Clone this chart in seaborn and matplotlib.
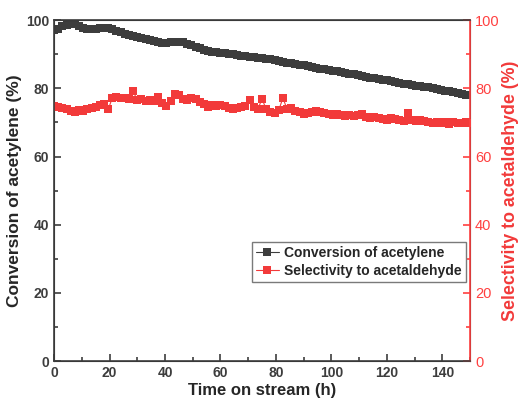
import numpy as np
import matplotlib
matplotlib.use("Agg")
import matplotlib.pyplot as plt
import seaborn as sns
from matplotlib.ticker import MultipleLocator

# data (sampling every 1.5 h)
time_h = np.arange(0, 150.1, 1.5)

conversion = [
    97.0, 97.5, 98.2, 98.7, 99.0, 98.9, 98.3, 97.8, 97.4, 97.3,
    97.4, 97.6, 97.7, 97.6, 97.3, 96.9, 96.4, 96.0, 95.6, 95.4,
    95.2, 94.9, 94.5, 94.1, 93.8, 93.5, 93.3, 93.4, 93.6, 93.7,
    93.7, 93.5, 93.1, 92.6, 92.1, 91.7, 91.3, 91.0, 90.8, 90.6,
    90.5, 90.3, 90.1, 90.0, 89.8, 89.6, 89.5, 89.3, 89.1, 88.9,
    88.8, 88.6, 88.5, 88.3, 88.0, 87.8, 87.5, 87.3, 87.1, 86.9,
    86.7, 86.5, 86.2, 86.0, 85.8, 85.6, 85.4, 85.2, 85.0, 84.8,
    84.5, 84.3, 84.1, 83.8, 83.5, 83.3, 83.1, 82.9, 82.7, 82.5,
    82.3, 82.1, 81.9, 81.6, 81.4, 81.2, 80.9, 80.7, 80.6, 80.5,
    80.3, 80.1, 79.9, 79.6, 79.3, 79.1, 78.9, 78.6, 78.4, 78.1,
    77.9,
]

selectivity = [
    74.8, 74.5, 74.3, 73.8, 73.3, 73.2, 73.5, 73.4, 73.9, 74.2,
    74.6, 75.1, 75.3, 73.8, 77.2, 77.6, 77.3, 77.1, 76.8, 79.2,
    76.5, 76.8, 76.2, 76.5, 76.3, 77.4, 75.6, 74.8, 76.3, 78.4,
    77.9, 77.0, 76.6, 77.2, 76.8, 76.1, 75.4, 74.6, 75.0, 74.8,
    75.2, 74.9, 74.3, 73.9, 74.2, 74.6, 74.8, 76.6, 74.4, 74.0,
    76.9, 73.8, 73.2, 72.8, 73.5, 77.2, 73.9, 74.2, 73.4, 73.0,
    72.6, 72.8, 73.1, 73.4, 73.2, 72.9, 72.4, 72.3, 72.6, 72.1,
    71.8, 72.3, 72.0, 72.2, 72.4, 71.7, 71.2, 71.5, 71.3, 71.0,
    70.8, 71.2, 70.9, 70.6, 70.4, 72.9, 70.7, 70.4, 70.6, 70.3,
    70.2, 69.7, 70.1, 69.8, 70.0, 69.6, 70.0, 69.7, 69.8, 70.1,
    69.8,
]

dark = "#3d3d3d"
red = "#f23a3a"
axis_red = "#ff4040"

sns.set_style("ticks")
plt.rcParams["font.family"] = ["Liberation Sans", "DejaVu Sans"]

fig = plt.figure(figsize=(5.2, 4.03), dpi=100)
ax = fig.add_axes([0.104, 0.104, 0.8, 0.846])
ax2 = ax.twinx()

sns.lineplot(x=time_h, y=conversion, ax=ax, color=dark, marker="s",
             markersize=5.3, markeredgewidth=0, linewidth=0.8,
             label="Conversion of acetylene", legend=False)
sns.lineplot(x=time_h, y=selectivity, ax=ax2, color=red, marker="s",
             markersize=5.3, markeredgewidth=0, linewidth=0.8,
             label="Selectivity to acetaldehyde", legend=False)

ax.set_xlim(0, 150)
ax.set_ylim(0, 100)
ax2.set_ylim(0, 100)

ax.xaxis.set_major_locator(MultipleLocator(20))
ax.xaxis.set_minor_locator(MultipleLocator(10))
ax.yaxis.set_major_locator(MultipleLocator(20))
ax.yaxis.set_minor_locator(MultipleLocator(10))
ax2.yaxis.set_major_locator(MultipleLocator(20))
ax2.yaxis.set_minor_locator(MultipleLocator(10))

ax.tick_params(which="both", direction="in", colors=dark, width=1.2,
               labelsize=10, top=False)
ax.tick_params(which="major", length=5)
ax.tick_params(which="minor", length=3)
ax2.tick_params(which="both", direction="in", colors=axis_red, width=1.2,
                labelsize=10.5)
ax2.tick_params(which="major", length=5)
ax2.tick_params(which="minor", length=3)
for lab in ax.get_xticklabels() + ax.get_yticklabels():
    lab.set_fontweight("bold")

for side in ["left", "bottom", "top"]:
    ax2.spines[side].set_color(dark)
    ax2.spines[side].set_linewidth(1.2)
ax2.spines["right"].set_color(axis_red)
ax2.spines["right"].set_linewidth(1.2)

ax.set_xlabel("Time on stream (h)", fontsize=12, fontweight="bold",
              labelpad=2)
ax.set_ylabel("Conversion of acetylene (%)", fontsize=12.5,
              fontweight="bold", labelpad=3)
ax2.set_ylabel("Selectivity to acetaldehyde (%)", fontsize=12.8,
               fontweight="bold", color=red, labelpad=2)

h1, l1 = ax.get_legend_handles_labels()
h2, l2 = ax2.get_legend_handles_labels()
leg = ax2.legend(h1 + h2, l1 + l2, loc="upper right",
                 bbox_to_anchor=(0.99, 0.35), borderaxespad=0,
                 fancybox=False, edgecolor="#7a7a7a", framealpha=1,
                 prop={"weight": "bold", "size": 10}, handlelength=1.6,
                 handletextpad=0.4, borderpad=0.3, labelspacing=0.3)
leg.get_frame().set_linewidth(1.0)

fig.savefig("out.png", dpi=100)
